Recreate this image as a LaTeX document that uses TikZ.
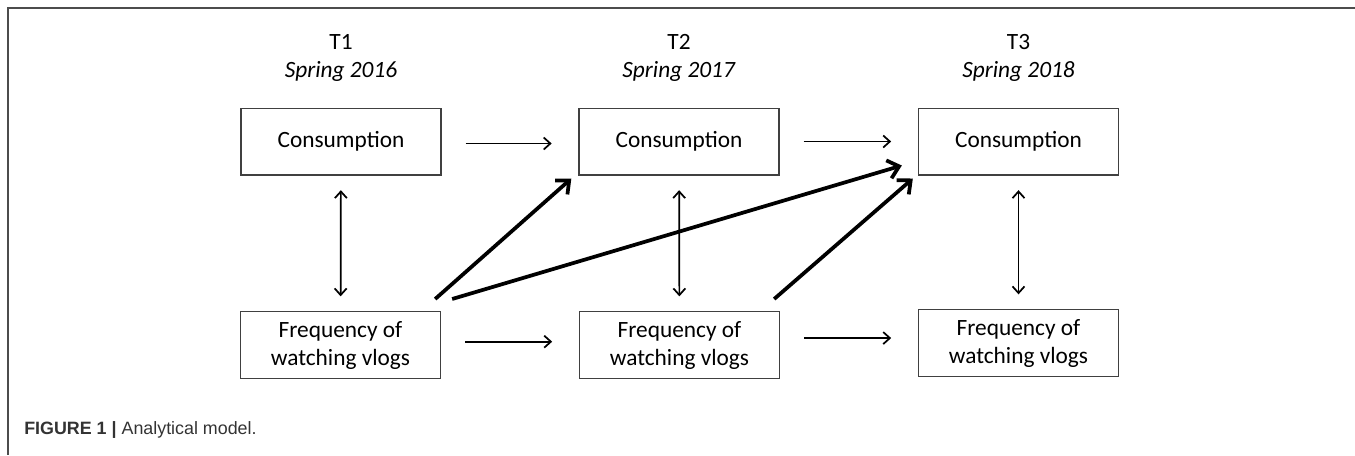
\documentclass[tikz,border=0pt]{standalone}
\usepackage{fontspec}
\setmainfont{Carlito}
\newfontfamily\capfont{Liberation Sans}
\usetikzlibrary{arrows.meta,positioning}
\tikzset{
varbox/.style = {draw=black!75, line width=1pt, minimum width=150pt, minimum height=50pt, inner sep=0pt, align=center, font=\fontsize{17.5}{21}\selectfont},% variable box
wave/.style = {align=center, font=\fontsize{17.5}{21}\selectfont},% T1 ... T3 heading
path_l/.style = {-{Straight Barb[length=5pt,width=9pt]}, line width=1.3pt, shorten <=18pt, shorten >=20pt},% lagged path
path_c/.style = {{Straight Barb[length=5pt,width=9pt]}-{Straight Barb[length=5pt,width=9pt]}, line width=1.3pt, shorten <=11pt, shorten >=11pt},% correlation
path_x/.style = {-{Straight Barb[length=8pt,width=14pt]}, line width=2.8pt}% cross-lagged path
}
\begin{document}
\begin{tikzpicture}[x=0.75pt, y=-0.75pt]
	\useasboundingbox (0,0) rectangle (1355,455);
	\draw[black!70, line width=1.2pt] (1355,8) -- (8,8) -- (8,455);
	% boxes
	\node [varbox] (c1) at (341,141.5) {Consumption};
	\node [varbox] (c2) at (679,141.5) {Consumption};
	\node [varbox] (c3) at (1018.5,141.5) {Consumption};
	\node [varbox] (f1) at (340.5,345) {Frequency of\\watching vlogs};
	\node [varbox] (f2) at (679.5,345) {Frequency of\\watching vlogs};
	\node [varbox] (f3) at (1018.5,343) {Frequency of\\watching vlogs};
	% headings
	\node [wave, above=16pt of c1] (t1) {T1\\\textit{Spring 2016}};
	\node [wave, above=16pt of c2] (t2) {T2\\\textit{Spring 2017}};
	\node [wave, above=16pt of c3] (t3) {T3\\\textit{Spring 2018}};
	% paths
	\draw [path_l] ([yshift=-1.5pt]c1.east) -- ([yshift=-1.5pt]c2.west);
	\draw [path_l] (c2) -- (c3);
	\draw [path_l] ([yshift=2.5pt]f1.east) -- ([yshift=2.5pt]f2.west);
	\draw [path_l] ([yshift=5.2pt]f2.east) -- ([yshift=3.7pt]f3.west);
	\draw [path_c] (c1) -- (f1);
	\draw [path_c] (c2) -- (f2);
	\draw [path_c] (c3) -- (f3);
	\draw [path_x] ([shift={(-6,-12)}]f1.north east) -- ([shift={(-7,3)}]c2.south west);
	\draw [path_x] ([shift={(11,-12)}]f1.north east) -- ([shift={(-16,-10)}]c3.south west);
	\draw [path_x] ([shift={(-6,-12)}]f2.north east) -- ([shift={(-5,3)}]c3.south west);
	% caption
	\node [anchor=base west, inner sep=0pt, font=\capfont\fontsize{13.4}{16}\selectfont, text=black!80] (cap) at (24,434) {\textbf{FIGURE 1} \textbf{|} Analytical model.};
\end{tikzpicture}
\end{document}
